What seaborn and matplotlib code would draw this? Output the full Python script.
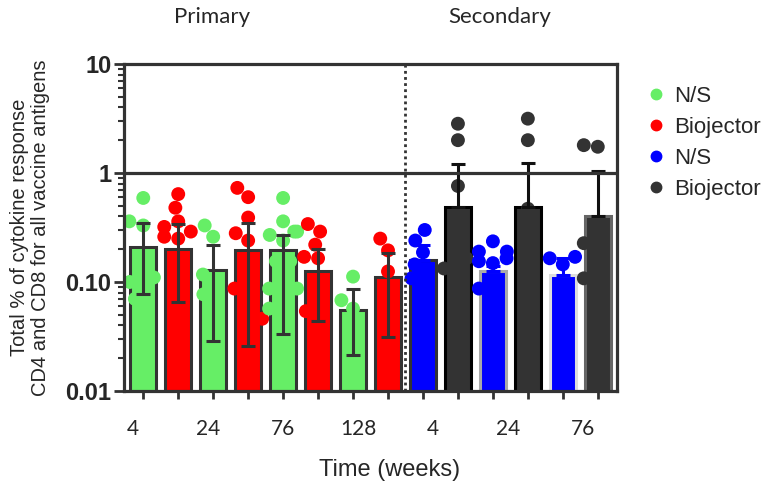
import warnings
import pandas as pd
import numpy as np
import seaborn as sns
import matplotlib.pyplot as plt
from matplotlib.lines import Line2D

warnings.filterwarnings("ignore")

# groups, left to right
slots = ["P4 N/S", "P4 Bio", "P24 N/S", "P24 Bio", "P76 N/S", "P76 Bio",
         "P128 N/S", "P128 Bio", "S4 N/S", "S4 Bio", "S24 N/S", "S24 Bio",
         "S76 N/S", "S76 Bio"]
week_labels = ["4", "24", "76", "128", "4", "24", "76"]

# bar heights and error bar ends
bar_heights = [0.21, 0.20, 0.128, 0.195, 0.195, 0.125, 0.055, 0.11,
               0.16, 0.49, 0.125, 0.49, 0.117, 0.40]
err_hi = [0.35, 0.34, 0.22, 0.35, 0.27, 0.20, 0.087, 0.183,
          0.22, 1.2, 0.14, 1.24, 0.165, 1.04]
err_lo = [0.078, 0.066, 0.029, 0.026, 0.033, 0.044, 0.0215, 0.031,
          0.16, 0.49, 0.125, 0.49, 0.117, 0.40]

# individual responses
points = [
    [0.59, 0.36, 0.33, 0.11, 0.10, 0.09, 0.07, 0.055],
    [0.64, 0.48, 0.36, 0.32, 0.29, 0.26, 0.25],
    [0.33, 0.26, 0.117, 0.095, 0.077, 0.062],
    [0.73, 0.60, 0.39, 0.28, 0.24, 0.087, 0.079, 0.046, 0.046, 0.03],
    [0.59, 0.36, 0.29, 0.29, 0.27, 0.24, 0.155, 0.155, 0.12, 0.087, 0.087, 0.08, 0.057, 0.054],
    [0.34, 0.29, 0.22, 0.17, 0.165, 0.054, 0.046],
    [0.112, 0.068, 0.057],
    [0.25, 0.195, 0.125, 0.06, 0.04],
    [0.30, 0.24, 0.187, 0.145, 0.12, 0.108, 0.09, 0.037],
    [2.83, 2.0, 0.76, 0.31, 0.227, 0.165, 0.133, 0.13, 0.063],
    [0.236, 0.19, 0.19, 0.165, 0.155, 0.149, 0.087, 0.087],
    [3.15, 2.0, 0.47, 0.35, 0.25, 0.14, 0.095],
    [0.17, 0.165, 0.145],
    [1.8, 1.74, 0.227, 0.21, 0.108, 0.108],
]

colors = ["#66EE66", "#FF0000"] * 4 + ["#0000FF", "#333333"] * 3
edges = ["#333333"] * 9 + ["#000000", "#AAAAAA", "#000000", "#DDDDDD", "#666666"]
err_colors = ["#333333"] * 8 + ["#0000FF", "#111111"] * 3

bars = pd.DataFrame({"slot": slots, "height": bar_heights})
dots = pd.DataFrame({"slot": np.repeat(slots, [len(p) for p in points]),
                     "value": np.concatenate(points)})
pal = dict(zip(slots, colors))

sns.set_style("ticks")
fig = plt.figure(figsize=(7.68, 4.91), dpi=100)
ax = fig.add_axes([0.1615, 0.2037, 0.6419, 0.666])
ax.set_yscale("log")

sns.barplot(data=bars, x="slot", y="height", hue="slot", palette=pal,
            order=slots, legend=False, errorbar=None, width=0.74,
            saturation=1, linewidth=2.2, ax=ax, zorder=1)
for patch, ec in zip(ax.patches, edges):
    patch.set_edgecolor(ec)

sns.swarmplot(data=dots, x="slot", y="value", hue="slot", palette=pal,
              order=slots, legend=False, size=10, ax=ax, zorder=2)

xs = np.arange(len(slots))
for i in xs:
    ax.errorbar(i, bar_heights[i],
                yerr=[[bar_heights[i] - err_lo[i]], [err_hi[i] - bar_heights[i]]],
                fmt="none", ecolor=err_colors[i], elinewidth=2.2, capsize=5,
                capthick=2.2, zorder=4)

ax.axhline(1, color="#333333", lw=2.3, zorder=5)
ax.axvline(7.5, color="#333333", lw=2, ls=(0, (1, 1.2)), zorder=5)

ax.set_ylim(0.01, 10)
ax.set_xlim(-0.55, 13.55)
ax.set_yticks([0.01, 0.1, 1, 10])
ax.set_yticklabels(["0.01", "0.10", "1", "10"], fontsize=17, fontweight="bold",
                   family="Liberation Sans")
ax.set_xticks(xs)
ax.set_xticklabels([""] * len(xs))
# week labels sit on their own, slightly wider spacing than the bar pairs
ax.set_xticks(np.linspace(-0.29, 12.57, 7), week_labels, minor=True,
              fontsize=15, family="Lato")
ax.tick_params(axis="x", which="major", length=6, width=2, color="#333333")
ax.tick_params(axis="x", which="minor", length=0, pad=20)
ax.tick_params(axis="y", which="major", length=7, width=2, color="#333333", pad=2)
ax.tick_params(axis="y", which="minor", length=4, width=1.5, color="#333333")
for s in ax.spines.values():
    s.set_linewidth(2.3)
    s.set_color("#333333")

ax.set_xlabel("")
ax.set_ylabel("Total % of cytokine response\nCD4 and CD8 for all vaccine antigens",
              fontsize=14.5, family="Liberation Sans", linespacing=1.15)
ax.yaxis.set_label_coords((50 - 124) / 493, 0.5)
fig.text(390 / 768, 1 - 470 / 491, "Time (weeks)", ha="center", va="center",
         fontsize=17, family="Liberation Sans")
fig.text(212 / 768, 1 - 17 / 491, "Primary", ha="center", va="center",
         fontsize=16, family="Lato")
fig.text(500 / 768, 1 - 17 / 491, "Secondary", ha="center", va="center",
         fontsize=16, family="Lato")

handles = [Line2D([], [], marker="o", ls="none", color=c, markersize=7.5)
           for c in ["#66EE66", "#FF0000", "#0000FF", "#333333"]]
fig.legend(handles, ["N/S", "Biojector", "N/S", "Biojector"], loc="upper left",
           bbox_to_anchor=(0.811, 0.866), frameon=False, handletextpad=0.2,
           handlelength=1.2, labelspacing=0.45,
           prop={"family": "Liberation Sans", "size": 16})

fig.savefig("out.png", dpi=100)
